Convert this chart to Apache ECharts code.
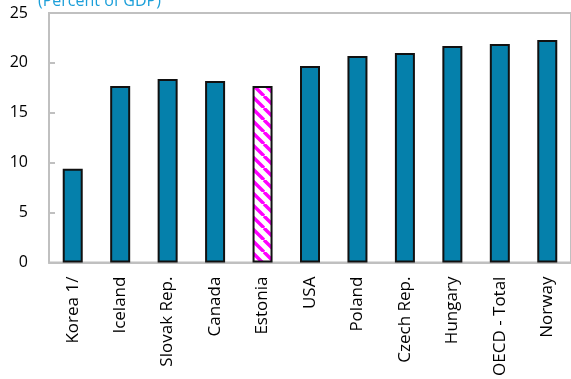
<!DOCTYPE html>
<html>
<head>
<meta charset="utf-8">
<script src="https://cdn.jsdelivr.net/npm/echarts@6/dist/echarts.min.js"></script>
<style>
  html, body { margin: 0; padding: 0; background: #fff; }
  #chart { width: 571px; height: 379px; }
</style>
</head>
<body>
<div id="chart"></div>
<script>
// Spending by country, percent of GDP
const countries = ['Korea 1/', 'Iceland', 'Slovak Rep.', 'Canada', 'Estonia', 'USA', 'Poland', 'Czech Rep.', 'Hungary', 'OECD - Total', 'Norway'];
const values = [9.4, 17.7, 18.4, 18.2, 17.7, 19.7, 20.7, 21.0, 21.7, 21.9, 22.3];
const yTicks = [0, 5, 10, 15, 20, 25];
const highlighted = 'Estonia';

// Hatched fill: white with magenta diagonal stripes
function stripePattern() {
  const size = 12;
  const c = document.createElement('canvas');
  c.width = size; c.height = size;
  const g = c.getContext('2d');
  g.fillStyle = '#ffffff';
  g.fillRect(0, 0, size, size);
  g.strokeStyle = '#ff00ff';
  g.lineWidth = 3.4;
  g.beginPath();
  for (let k = -1; k <= 1; k++) {
    g.moveTo(k * size, 0);
    g.lineTo(k * size + size, size);
  }
  g.stroke();
  return c;
}
const hatch = { image: stripePattern(), repeat: 'repeat' };

const barData = countries.map((name, i) => ({
  value: values[i],
  itemStyle: name === highlighted ? { color: hatch } : {}
}));

const chart = echarts.init(document.getElementById('chart'), null, { renderer: 'canvas' });
chart.setOption({
  animation: false,
  title: {
    text: '(Percent of GDP)',
    left: 33,
    top: -12,
    textStyle: { fontFamily: 'Open Sans', fontSize: 16, fontWeight: 'normal', color: '#1c9fd9' }
  },
  grid: { left: 49, right: -8, top: 13, bottom: 116, show: true, borderColor: '#c0c0c0', borderWidth: 2, backgroundColor: 'transparent' },
  xAxis: {
    type: 'category',
    data: countries,
    axisLine: { lineStyle: { color: '#c0c0c0', width: 2 } },
    axisTick: { show: false },
    axisLabel: { rotate: 90, interval: 0, margin: 14, fontFamily: 'Open Sans', fontSize: 17, color: '#000' }
  },
  yAxis: {
    type: 'value',
    min: yTicks[0],
    max: yTicks[yTicks.length - 1],
    interval: 5,
    splitLine: { show: false },
    axisLine: { show: true, lineStyle: { color: '#c0c0c0', width: 2 } },
    axisTick: { show: true, inside: true, length: 6, lineStyle: { color: '#c0c0c0', width: 2 } },
    axisLabel: { margin: 21, fontFamily: 'Open Sans', fontSize: 16, color: '#000' }
  },
  series: [{
    type: 'bar',
    data: barData,
    barWidth: 20,
    itemStyle: { color: '#0580ab', borderColor: '#111', borderWidth: 2 }
  }]
});
</script>
</body>
</html>
